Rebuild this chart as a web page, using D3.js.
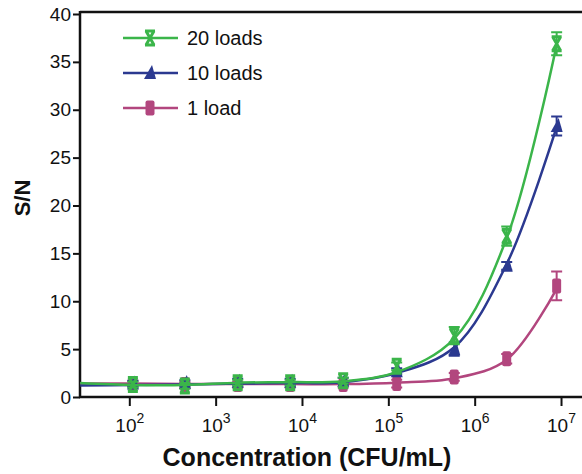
<!DOCTYPE html>
<html>
<head>
<meta charset="utf-8">
<script src="https://cdn.jsdelivr.net/npm/d3@7"></script>
<style>
  body { margin: 0; background: #fff; }
  svg { display: block; font-family: Arial, 'Liberation Sans', sans-serif; }
</style>
</head>
<body>
<div id="chart"></div>
<script>
// concentration of each sample (CFU/mL)
const concentrations = [110, 440, 1800, 7300, 30000, 125000, 580000, 2350000, 8900000]

// measured S/N
const load20 = [1.3, 1.15, 1.5, 1.5, 1.7, 3.2, 6.4, 16.8, 36.9]
const load10 = [1.4, 1.45, 1.6, 1.6, 1.7, 2.7, 5.0, 13.7, 28.3]
const load1 = [1.4, 1.3, 1.3, 1.3, 1.3, 1.4, 2.1, 4.0, 11.6]

// error bars (sd)
const err20 = [0.3, 0.3, 0.3, 0.3, 0.3, 0.4, 0.9, 1.0, 1.2]
const err10 = [0.3, 0.3, 0.3, 0.3, 0.3, 0.3, 0.7, 0.4, 1.0]
const err1 = [0.3, 0.3, 0.3, 0.3, 0.3, 0.4, 0.4, 0.5, 1.5]

// fitted curves
const fitConc = [27, 110, 440, 1800, 7300, 30000, 125000, 580000, 2350000, 8900000]
const fit20 = [1.45, 1.25, 1.25, 1.5, 1.55, 1.65, 2.6, 6.1, 16.6, 36.8]
const fit10 = [1.2, 1.25, 1.3, 1.4, 1.45, 1.55, 2.5, 5.2, 13.9, 28.2]
const fit1 = [1.4, 1.4, 1.35, 1.35, 1.35, 1.35, 1.5, 1.95, 3.9, 11.3]

const yTicks = [0, 5, 10, 15, 20, 25, 30, 35, 40]
const xTicks = [1e2, 1e3, 1e4, 1e5, 1e6, 1e7]

const series = [
  { name: '1 load', color: '#b2467e', shape: 'rect', values: load1, errors: err1, fit: fit1 },
  { name: '10 loads', color: '#2b3990', shape: 'triangle', values: load10, errors: err10, fit: fit10 },
  { name: '20 loads', color: '#3bb54a', shape: 'x', values: load20, errors: err20, fit: fit20 }
]

const width = 582
const height = 474

const svg = d3
  .select('#chart')
  .append('svg')
  .attr('width', width)
  .attr('height', height)

const xPositionScale = d3
  .scaleLog()
  .domain([Math.pow(10, 1.429), Math.pow(10, 7.243)])
  .range([80, 582])

const yPositionScale = d3
  .scaleLinear()
  .domain([0, 40])
  .range([397, 14])

// top frame line
svg
  .append('line')
  .attr('x1', 80)
  .attr('x2', 582)
  .attr('y1', 12)
  .attr('y2', 12)
  .attr('stroke', '#111')
  .attr('stroke-width', 2.5)

// y axis
const yAxis = d3
  .axisLeft(yPositionScale)
  .tickValues(yTicks)
  .tickSize(7)
  .tickPadding(2)

const yG = svg
  .append('g')
  .attr('class', 'axis y-axis')
  .attr('transform', 'translate(80,0)')
  .call(yAxis)

yG.select('.domain').attr('d', 'M0,398V11').attr('stroke', '#111').attr('stroke-width', 2.5)
yG.selectAll('.tick line').attr('stroke', '#111').attr('stroke-width', 2)
yG.selectAll('.tick text').attr('font-size', 19).attr('fill', '#111')

// x axis
const xAxis = d3
  .axisBottom(xPositionScale)
  .tickValues(xTicks)
  .tickSize(9)
  .tickFormat('')

const xG = svg
  .append('g')
  .attr('class', 'axis x-axis')
  .attr('transform', 'translate(0,397)')
  .call(xAxis)

xG.select('.domain').attr('d', 'M79,0H582').attr('stroke', '#111').attr('stroke-width', 2.5)
xG.selectAll('.tick line').attr('stroke', '#111').attr('stroke-width', 2)

xG.selectAll('.tick')
  .append('text')
  .attr('y', 35)
  .attr('fill', '#111')
  .attr('text-anchor', 'middle')
  .attr('font-size', 19)
  .each(function(d) {
    const t = d3.select(this)
    t.append('tspan').text('10')
    t.append('tspan')
      .attr('font-size', 14)
      .attr('dy', -9)
      .text(Math.round(Math.log10(d)))
  })

// axis titles
svg
  .append('text')
  .attr('transform', 'translate(30,198) rotate(-90)')
  .attr('text-anchor', 'middle')
  .attr('font-size', 22)
  .attr('font-weight', 'bold')
  .attr('fill', '#111')
  .text('S/N')

svg
  .append('text')
  .attr('x', 307)
  .attr('y', 466)
  .attr('text-anchor', 'middle')
  .attr('font-size', 25)
  .attr('font-weight', 'bold')
  .attr('fill', '#111')
  .text('Concentration (CFU/mL)')

// marker drawing
function drawMarker(g, shape, color) {
  if (shape === 'rect') {
    g.append('rect')
      .attr('x', -4.5)
      .attr('y', -7.5)
      .attr('width', 9)
      .attr('height', 15)
      .attr('rx', 2)
      .attr('fill', color)
  } else if (shape === 'triangle') {
    g.append('path')
      .attr('d', 'M2,-8L6,6L-6,6Z')
      .attr('fill', color)
  } else {
    g.append('path')
      .attr('d', 'M-5,-7H5M-4,-7L4,7M4,-7L-4,7M-5,7H5')
      .attr('fill', 'none')
      .attr('stroke', color)
      .attr('stroke-width', 3)
  }
}

const fitLine = d3
  .line()
  .x((d, i) => xPositionScale(fitConc[i]))
  .y(d => yPositionScale(d))
  .curve(d3.curveCatmullRom.alpha(0.5))

series.forEach(s => {
  const g = svg.append('g').attr('class', 'series')

  g.append('path')
    .datum(s.fit)
    .attr('d', fitLine)
    .attr('fill', 'none')
    .attr('stroke', s.color)
    .attr('stroke-width', 2.5)

  const pts = g
    .selectAll('.pt')
    .data(s.values)
    .enter()
    .append('g')
    .attr('class', 'pt')
    .attr('transform', (d, i) =>
      'translate(' + xPositionScale(concentrations[i]) + ',' + yPositionScale(d) + ')')

  // error bars
  pts.each(function(d, i) {
    const e = s.errors[i]
    const top = yPositionScale(d + e) - yPositionScale(d)
    const bottom = yPositionScale(d - e) - yPositionScale(d)
    const p = d3.select(this)
    p.append('path')
      .attr('d', 'M0,' + top + 'V' + bottom + 'M-5.5,' + top + 'H5.5M-5.5,' + bottom + 'H5.5')
      .attr('fill', 'none')
      .attr('stroke', s.color)
      .attr('stroke-width', 2)
    drawMarker(p, s.shape, s.color)
  })
})

// legend
const legendRows = [series[2], series[1], series[0]]
const legendY = [38, 73, 108]

legendRows.forEach((s, i) => {
  const g = svg.append('g').attr('transform', 'translate(0,' + legendY[i] + ')')
  g.append('line')
    .attr('x1', 123)
    .attr('x2', 178)
    .attr('stroke', s.color)
    .attr('stroke-width', 2.5)
  drawMarker(g.append('g').attr('transform', 'translate(150,0)'), s.shape, s.color)
  g.append('text')
    .attr('x', 187)
    .attr('y', 7)
    .attr('font-size', 20)
    .attr('fill', '#111')
    .text(s.name)
})
</script>
</body>
</html>
